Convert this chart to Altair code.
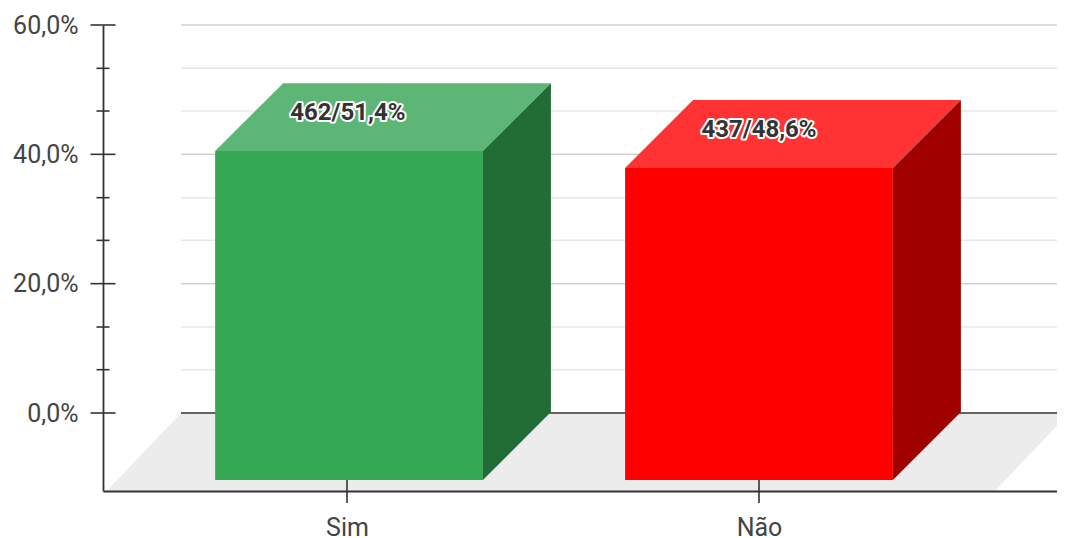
import altair as alt
import pandas as pd

categories = ["Sim", "Não"]
tick_positions = [0, 1]
bar_positions = [0.005, 1.0]
bar_tops = [51.0, 48.4]
labels = ["462/51,4%", "437/48,6%"]
front_colors = ["#34a853", "#ff0000"]
top_colors = ["#5db675", "#ff3333"]
side_colors = ["#226d36", "#a00000"]
major_ticks = [0, 20, 40, 60]
minor_ticks = [6.7, 13.3, 26.7, 33.3, 46.7, 53.3]

X_MIN, X_MAX = -0.5922, 1.7233
Y_MIN, Y_MAX = -12.06, 60.0
HALF_W = 0.325      # half bar width, category units
DEPTH_X = 0.165     # receding offset, category units
DEPTH_Y = 10.5      # receding offset, value units
FLOOR_DX = 0.18

AX_COL = "#333333"
TXT = "#444444"
cats_js = "[" + ",".join(f"'{c}'" for c in categories) + "]"

xs = alt.Scale(domain=[X_MIN, X_MAX], nice=False, zero=False)
ys = alt.Scale(domain=[Y_MIN, Y_MAX], nice=False, zero=False)
x_axis = alt.Axis(
    values=tick_positions, labelExpr=f"{cats_js}[datum.value]", grid=False, ticks=False,
    domainColor=AX_COL, domainWidth=1.8, labelFont="Roboto", labelFontSize=25, labelColor=TXT,
    labelPadding=24, labelBaseline="top", labelAngle=0, zindex=1, title=None)
y_axis = alt.Axis(
    values=major_ticks, labelExpr="replace(format(datum.value,'.1f'),'.',',')+'%'", grid=False, ticks=False,
    domainColor=AX_COL, domainWidth=1.8, labelFont="Roboto", labelFontSize=25, labelColor=TXT,
    labelPadding=25, zindex=1, title=None)
X = lambda f="x": alt.X(f"{f}:Q", scale=xs, axis=x_axis)
Y = lambda f="y": alt.Y(f"{f}:Q", scale=ys, axis=y_axis)

layers = []

# floor
floor_left = -0.403
floor_right = 1.7527
floor = pd.DataFrame({
    "y": [Y_MIN, 0],
    "x": [floor_left - FLOOR_DX, floor_left],
    "x2": [floor_right - FLOOR_DX, floor_right],
})
layers.append(alt.Chart(floor).mark_area(orient="horizontal", color="#ececec", clip=True).encode(
    x=X(), x2="x2:Q", y=Y()))

# gridlines
grid_df = pd.DataFrame({"y": minor_ticks, "x": floor_left, "x2": X_MAX})
layers.append(alt.Chart(grid_df).mark_rule(color="#e8e8e8", strokeWidth=1.5).encode(x=X(), x2="x2:Q", y=Y()))
grid_df = pd.DataFrame({"y": [v for v in major_ticks if v > 0], "x": floor_left, "x2": X_MAX})
layers.append(alt.Chart(grid_df).mark_rule(color="#d2d2d2", strokeWidth=1.5).encode(x=X(), x2="x2:Q", y=Y()))
zero_df = pd.DataFrame({"y": [0], "x": floor_left, "x2": X_MAX})
layers.append(alt.Chart(zero_df).mark_rule(color=AX_COL, strokeWidth=1.6).encode(x=X(), x2="x2:Q", y=Y()))

# y-axis ticks
layers.append(alt.Chart(pd.DataFrame({"y": major_ticks, "x": X_MIN})).mark_tick(
    orient="horizontal", size=25, thickness=1.6, color=AX_COL, opacity=1).encode(x=X(), y=Y()))
layers.append(alt.Chart(pd.DataFrame({"y": minor_ticks, "x": X_MIN})).mark_tick(
    orient="horizontal", size=13, thickness=1.6, color=AX_COL, opacity=1).encode(x=X(), y=Y()))
# x-axis ticks
layers.append(alt.Chart(pd.DataFrame({"x": tick_positions, "y": Y_MIN})).mark_tick(
    orient="vertical", size=24, thickness=1.6, color=AX_COL, opacity=1).encode(x=X(), y=Y()))

# 3-D bars
front_bottom = -DEPTH_Y + 0.14
for pos, top, fc, tc, sc in zip(bar_positions, bar_tops, front_colors, top_colors, side_colors):
    x0, x1 = pos - HALF_W, pos + HALF_W
    front_top = top - DEPTH_Y
    front = pd.DataFrame({"x": [x0], "x2": [x1], "y": [front_bottom], "y2": [front_top]})
    layers.append(alt.Chart(front).mark_rect(color=fc).encode(x=X(), x2="x2:Q", y=Y(), y2="y2:Q"))
    topf = pd.DataFrame({
        "y": [front_top, top],
        "x": [x0, x0 + DEPTH_X],
        "x2": [x1, x1 + DEPTH_X],
    })
    layers.append(alt.Chart(topf).mark_area(orient="horizontal", color=tc).encode(x=X(), x2="x2:Q", y=Y()))
    side = pd.DataFrame({
        "x": [x1, x1 + DEPTH_X],
        "y": [front_bottom, front_bottom + DEPTH_Y],
        "y2": [front_top, top],
    })
    layers.append(alt.Chart(side).mark_area(orient="vertical", color=sc).encode(x=X(), y=Y(), y2="y2:Q"))

# data labels with halo
lab = pd.DataFrame({"x": [bar_positions[0] - 0.003, bar_positions[1]], "y": bar_tops, "t": labels})
for kw in (dict(stroke="#ffffff", strokeWidth=4, strokeJoin="round", fill="#ffffff"), dict(fill="#333333")):
    layers.append(alt.Chart(lab).mark_text(
        font="Roboto", fontSize=24, fontWeight="bold", dy=30, baseline="middle", align="center", **kw
    ).encode(x=X(), y=Y(), text="t:N"))

chart = alt.layer(*layers).properties(
    width=954, height=466,
    autosize=alt.AutoSizeParams(type="none"),
    padding={"left": 95, "top": 17, "right": 0, "bottom": 47},
).configure_view(stroke=None)

chart.save("out.html", embed_options={"renderer": "svg", "actions": False})
